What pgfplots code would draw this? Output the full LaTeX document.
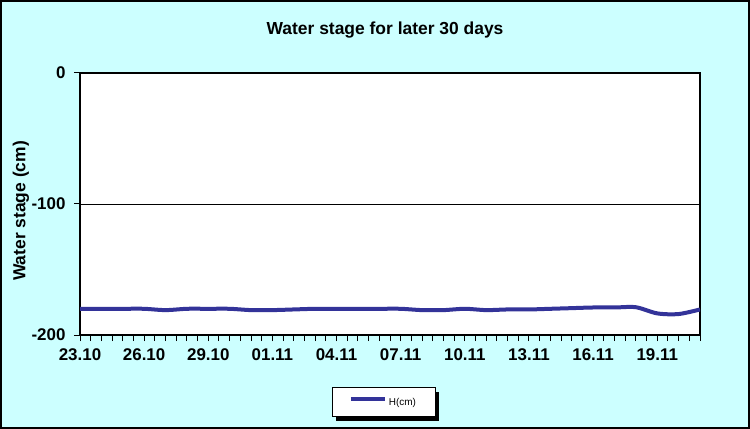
\documentclass[border=0pt]{standalone}
\usepackage{pgfplots}
\pgfplotsset{compat=1.18}
\usepackage{fontspec}
\setmainfont{Liberation Sans}
\definecolor{bgcyan}{HTML}{CCFFFF}
\definecolor{linecol}{HTML}{333399}
\pgfplotstableread{
x y
0 -180
1 -180
2 -180
3 -180
4 -181
5 -180
6 -180
7 -180
8 -181
9 -181
10 -180.5
11 -180
12 -180
13 -180
14 -180
15 -180
16 -181
17 -181
18 -180
19 -181
20 -180.5
21 -180.5
22 -180
23 -179.5
24 -179
25 -179
26 -178.8
27 -183.5
28 -184
29 -180.5
}\datatable
\begin{document}
\begin{tikzpicture}
\fill[bgcyan] (0,0) rectangle (750bp,429bp);
\draw[black,line width=2bp] (1bp,1bp) rectangle (749bp,428bp);
% legend box with shadow
\fill[black] (336bp,8bp) rectangle (439bp,37bp);
\draw[black,line width=1bp,fill=white] (332bp,12bp) rectangle (435bp,41bp);
\useasboundingbox (0,0) rectangle (750bp,429bp);
\begin{axis}[
  at={(80bp,94bp)}, anchor=south west,
  scale only axis, width=620bp, height=262bp,
  xmin=0, xmax=29, ymin=-200, ymax=0,
  ytick={-200,-100,0},
  xtick={0,3,...,27},
  xticklabels={23.10,26.10,29.10,01.11,04.11,07.11,10.11,13.11,16.11,19.11},
  minor xtick={0,0.5,...,29},
  xtick pos=bottom, ytick pos=left,
  tick align=outside,
  major tick length=6bp, minor tick length=6bp,
  tick style={black,line width=1bp},
  minor tick style={black,line width=1bp},
  axis line style={black,line width=1.5bp},
  axis background/.style={fill=white},
  ymajorgrids, grid style={black,line width=0.8bp},
  /pgf/number format/assume math mode=true,
  ticklabel style={font=\bfseries\fontsize{17}{17}\selectfont},
  xticklabel style={yshift=-4bp},
  yticklabel style={xshift=-5bp},
  title={Water stage for later 30 days},
  title style={at={(axis description cs:0.492,1.141)},anchor=center,yshift=0pt,font=\bfseries\fontsize{17.5}{17.5}\selectfont},
  ylabel={Water stage (cm)},
  ylabel style={at={(axis description cs:-0.0955,0.473)},anchor=center,font=\bfseries\fontsize{17.5}{17.5}\selectfont},
  legend style={at={(axis description cs:0.4895,-0.2576)},anchor=center,
    draw=none,fill=none,inner xsep=0bp,inner ysep=0bp,
    font=\fontsize{10}{10}\selectfont},
  legend image code/.code={\draw[#1] (0bp,3.5bp) -- (34bp,3.5bp);},
]
\addplot[linecol,line width=4bp,smooth] table[x=x,y=y]{\datatable};
\addlegendentry{H(cm)}
\end{axis}
\end{tikzpicture}
\end{document}
